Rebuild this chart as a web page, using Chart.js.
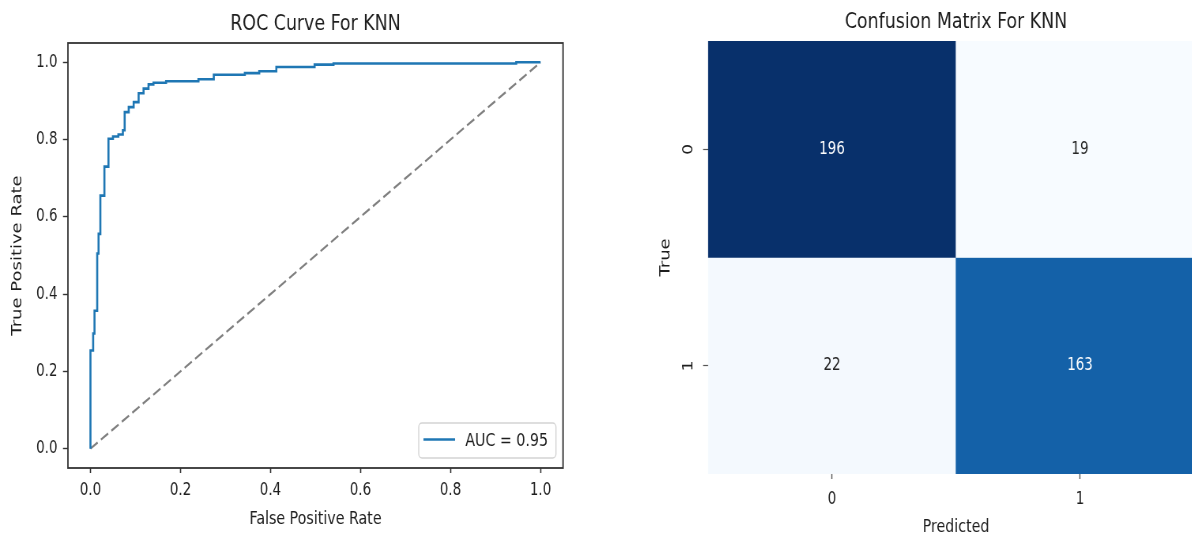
<!DOCTYPE html>
<html>
<head>
<meta charset="utf-8">
<title>KNN evaluation</title>
<script src="https://cdn.jsdelivr.net/npm/chart.js@4.4.1/dist/chart.umd.min.js"></script>
<style>
  html, body { margin: 0; padding: 0; background: #fff; }
  body { width: 1192px; height: 535px; overflow: hidden; position: relative; }
  /* both panels are laid out wide and narrowed horizontally */
  .panel { position: absolute; top: 0; transform: scaleX(0.79); transform-origin: 0 0; }
  #rocBox { left: 0; width: 754px; height: 535px; }
  #cmBox { left: 596px; width: 810px; height: 545px; }
</style>
</head>
<body>
<div id="rocBox" class="panel"><canvas id="roc" width="754" height="535"></canvas></div>
<div id="cmBox" class="panel"><canvas id="cm" width="810" height="545"></canvas></div>
<script>
// ROC curve vertices: false positive rate / true positive rate
const fpr = [0, 0, 0.006, 0.006, 0.009, 0.009, 0.015, 0.015, 0.018, 0.018, 0.022, 0.022,
  0.031, 0.031, 0.04, 0.04, 0.05, 0.05, 0.062, 0.062, 0.072, 0.072, 0.076, 0.076,
  0.085, 0.085, 0.096, 0.096, 0.107, 0.107, 0.118, 0.118, 0.129, 0.129, 0.14, 0.14,
  0.168, 0.168, 0.24, 0.24, 0.274, 0.274, 0.343, 0.343, 0.375, 0.375, 0.413, 0.413,
  0.498, 0.498, 0.54, 0.54, 0.946, 0.946, 1.0];
const tpr = [0, 0.254, 0.254, 0.298, 0.298, 0.357, 0.357, 0.505, 0.505, 0.556, 0.556, 0.655,
  0.655, 0.73, 0.73, 0.802, 0.802, 0.808, 0.808, 0.813, 0.813, 0.824, 0.824, 0.871,
  0.871, 0.884, 0.884, 0.897, 0.897, 0.92, 0.92, 0.932, 0.932, 0.943, 0.943, 0.947,
  0.947, 0.951, 0.951, 0.956, 0.956, 0.968, 0.968, 0.972, 0.972, 0.977, 0.977, 0.988,
  0.988, 0.994, 0.994, 0.997, 0.997, 1.0, 1.0];
const chanceX = [0, 1];
const chanceY = [0, 1];
const aucLabel = 'AUC = 0.95';
const rocTicks = [0, 0.2, 0.4, 0.6, 0.8, 1.0];

// Confusion matrix: rows = true class, columns = predicted class
const classLabels = ['0', '1'];
const matrix = [[196, 19], [22, 163]];

const FONT = "'DejaVu Sans', sans-serif";
Chart.defaults.font.family = FONT;
Chart.defaults.color = '#1e1e1e';
Chart.defaults.animation = false;

// ---- "Blues" colour map ----
const BLUES = ['#f7fbff', '#deebf7', '#c6dbef', '#9ecae1', '#6baed6', '#4292c6', '#2171b5', '#08519c', '#08306b'];
function hexToRgb(h) { return [1, 3, 5].map(i => parseInt(h.slice(i, i + 2), 16)); }
function blues(t) {
  t = Math.min(1, Math.max(0, t));
  const s = t * (BLUES.length - 1);
  const i = Math.min(BLUES.length - 2, Math.floor(s));
  const f = s - i;
  const a = hexToRgb(BLUES[i]), b = hexToRgb(BLUES[i + 1]);
  return a.map((v, k) => Math.round(v + (b[k] - v) * f));
}
const allCounts = matrix.flat();
const vmin = Math.min(...allCounts), vmax = Math.max(...allCounts);
function cellRgb(v) { return blues((v - vmin) / (vmax - vmin)); }
function rgbStr(c) { return 'rgb(' + c.join(',') + ')'; }
function luminance(c) {
  const l = c.map(v => { v /= 255; return v <= 0.03928 ? v / 12.92 : Math.pow((v + 0.055) / 1.055, 2.4); });
  return 0.2126 * l[0] + 0.7152 * l[1] + 0.0722 * l[2];
}

// ---- ROC axes box and inset legend ----
const axesFrame = {
  id: 'axesFrame',
  afterDatasetsDraw(chart) {
    const { ctx, chartArea: a } = chart;
    ctx.save();
    ctx.strokeStyle = '#333';
    ctx.lineWidth = 1.8;
    ctx.strokeRect(a.left, a.top, a.right - a.left, a.bottom - a.top);
    ctx.restore();
  }
};

const insetLegend = {
  id: 'insetLegend',
  afterDraw(chart) {
    const ds = chart.data.datasets[0];
    const { ctx, chartArea: a } = chart;
    ctx.save();
    ctx.font = '18px ' + FONT;
    const tw = ctx.measureText(ds.label).width;
    const lineLen = 40, padL = 6, gap = 13, padR = 10, h = 35;
    const w = padL + lineLen + gap + tw + padR;
    const x1 = a.right - 9, y1 = a.bottom - 10;
    const x0 = x1 - w, y0 = y1 - h;
    ctx.beginPath();
    ctx.roundRect(x0, y0, w, h, 4);
    ctx.fillStyle = 'rgba(255,255,255,0.8)';
    ctx.fill();
    ctx.strokeStyle = '#d4d4d4';
    ctx.lineWidth = 1.4;
    ctx.stroke();
    const cy = y0 + h / 2;
    ctx.beginPath();
    ctx.moveTo(x0 + padL, cy - 1);
    ctx.lineTo(x0 + padL + lineLen, cy - 1);
    ctx.strokeStyle = ds.borderColor;
    ctx.lineWidth = ds.borderWidth;
    ctx.stroke();
    ctx.fillStyle = '#1e1e1e';
    ctx.textBaseline = 'middle';
    ctx.textAlign = 'left';
    ctx.fillText(ds.label, x0 + padL + lineLen + gap, cy + 1);
    ctx.restore();
  }
};

new Chart(document.getElementById('roc'), {
  type: 'scatter',
  data: {
    datasets: [
      {
        label: aucLabel,
        data: fpr.map((x, i) => ({ x, y: tpr[i] })),
        showLine: true,
        borderColor: '#1f77b4',
        borderWidth: 2.6,
        pointRadius: 0,
        tension: 0
      },
      {
        label: 'chance',
        data: chanceX.map((x, i) => ({ x, y: chanceY[i] })),
        showLine: true,
        borderColor: '#808080',
        borderWidth: 2.2,
        borderDash: [11, 5],
        pointRadius: 0
      }
    ]
  },
  options: {
    responsive: false,
    layout: { padding: { left: 0, right: 41.3, top: 0, bottom: 0 } },
    plugins: {
      legend: { display: false },
      tooltip: { enabled: false },
      title: {
        display: true,
        text: 'ROC Curve For KNN',
        fullSize: false,
        font: { size: 22, weight: 'normal' },
        color: '#1e1e1e',
        padding: { top: 10.8, bottom: 5.8 }
      }
    },
    scales: {
      x: {
        type: 'linear',
        min: -0.05,
        max: 1.05,
        afterBuildTicks: s => { s.ticks = rocTicks.map(v => ({ value: v })); },
        afterFit: s => { s.height = 67; },
        ticks: { callback: v => v.toFixed(1), font: { size: 17 }, padding: 7.8, maxRotation: 0, minRotation: 0 },
        grid: { display: true, drawOnChartArea: false, drawTicks: true, tickLength: 5, tickColor: '#333', tickWidth: 1.6 },
        border: { display: false },
        title: { display: true, text: 'False Positive Rate', font: { size: 18 }, padding: { bottom: 5.2 } }
      },
      y: {
        type: 'linear',
        min: -0.05,
        max: 1.05,
        afterBuildTicks: s => { s.ticks = rocTicks.map(v => ({ value: v })); },
        afterFit: s => { s.width = 86; },
        ticks: { callback: v => v.toFixed(1), font: { size: 17 }, padding: 7 },
        grid: { display: true, drawOnChartArea: false, drawTicks: true, tickLength: 6.3, tickColor: '#333', tickWidth: 1.4 },
        border: { display: false },
        title: { display: true, text: 'True Positive Rate', font: { size: 18 }, padding: { top: 12 } }
      }
    }
  },
  plugins: [axesFrame, insetLegend]
});

// ---- confusion matrix heat map ----
const cellLabels = {
  id: 'cellLabels',
  afterDatasetsDraw(chart) {
    const { ctx } = chart;
    ctx.save();
    ctx.font = '17px ' + FONT;
    ctx.textAlign = 'center';
    ctx.textBaseline = 'middle';
    chart.data.datasets.forEach((ds, r) => {
      chart.getDatasetMeta(r).data.forEach((bar, c) => {
        const v = ds.counts[c];
        ctx.fillStyle = luminance(cellRgb(v)) > 0.408 ? '#262626' : '#ffffff';
        ctx.fillText(String(v), bar.x, (bar.y + bar.base) / 2);
      });
    });
    ctx.restore();
  }
};

new Chart(document.getElementById('cm'), {
  type: 'bar',
  data: {
    labels: classLabels,
    datasets: matrix.map((row, r) => ({
      label: 'True ' + classLabels[r],
      counts: row,
      data: row.map(() => [r, r + 1]),
      backgroundColor: row.map(v => rgbStr(cellRgb(v))),
      borderWidth: 0,
      grouped: false,
      barPercentage: 1,
      categoryPercentage: 1
    }))
  },
  options: {
    responsive: false,
    layout: { padding: { left: 0, right: 40.4, top: 0, bottom: 0 } },
    plugins: {
      legend: { display: false },
      tooltip: { enabled: false },
      title: {
        display: true,
        text: 'Confusion Matrix For KNN',
        fullSize: false,
        font: { size: 22, weight: 'normal' },
        color: '#1e1e1e',
        padding: { top: 8.8, bottom: 5.8 }
      }
    },
    scales: {
      x: {
        type: 'category',
        afterFit: s => { s.height = 71; },
        ticks: { font: { size: 17 }, padding: 10.8, maxRotation: 0, minRotation: 0 },
        grid: { display: true, offset: false, drawOnChartArea: false, drawTicks: true, tickLength: 5, tickColor: '#555', tickWidth: 1.4 },
        border: { display: false },
        title: { display: true, text: 'Predicted', font: { size: 18 }, padding: { bottom: 7.2 } }
      },
      y: {
        type: 'linear',
        min: 0,
        max: classLabels.length,
        reverse: true,
        afterBuildTicks: s => { s.ticks = classLabels.map((_, i) => ({ value: i + 0.5 })); },
        afterFit: s => { s.width = 141.8; },
        ticks: {
          callback: v => classLabels[Math.floor(v)],
          font: { size: 17 },
          padding: 12.4,
          minRotation: 90,
          maxRotation: 90,
          crossAlign: 'center'
        },
        grid: { display: true, drawOnChartArea: false, drawTicks: true, tickLength: 6.3, tickColor: '#555', tickWidth: 1.2 },
        border: { display: false },
        title: { display: true, text: 'True', font: { size: 18 }, padding: { top: 77.8 } }
      }
    }
  },
  plugins: [cellLabels]
});
</script>
</body>
</html>
